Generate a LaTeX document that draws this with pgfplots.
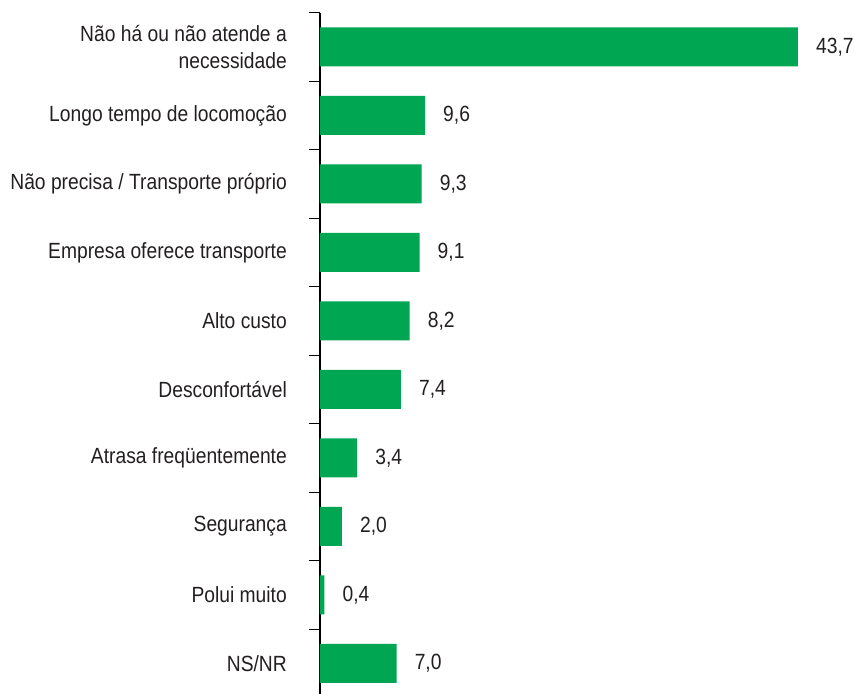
\documentclass[border=0pt]{standalone}
\usepackage{pgfplots}
\pgfplotsset{compat=1.18}
\usepackage{fontspec}
\setmainfont{Liberation Sans}[FakeStretch=0.875]
\definecolor{barg}{RGB}{0,166,81}
\definecolor{txt}{RGB}{35,31,32}
\begin{document}
\fontsize{22bp}{27bp}\selectfont
\begin{tikzpicture}
\begin{axis}[
  scale only axis,
  width=525bp, height=685bp,
  xmin=0, xmax=48,
  ymin=-0.5, ymax=9.5, y dir=reverse,
  xbar, bar width=39bp, bar shift=0pt,
  axis x line=none,
  axis y line*=left,
  axis line style={black, line width=1.3bp},
  ytick={0,...,9},
  yticklabels={{Não há ou não atende a\\necessidade},{Longo tempo de locomoção},{Não precisa / Transporte próprio},{Empresa oferece transporte},{Alto custo},{Desconfortável},{Atrasa freqüentemente},{Segurança},{Polui muito},{NS/NR}},
  major tick length=0pt,
  minor ytick={-0.5,0.5,...,9.5},
  minor tick length=11bp,
  tick align=outside,
  minor tick style={black, line width=1.3bp},
  yticklabel style={align=right, inner sep=0pt, xshift=-33bp, text=txt, font=\fontsize{22bp}{27bp}\selectfont},
  /pgf/number format/assume math mode=true,
  nodes near coords,
  point meta=x,
  nodes near coords style={anchor=west, inner sep=0pt, xshift=18bp, text=txt, font=\fontsize{22bp}{27bp}\selectfont,
    /pgf/number format/.cd, use comma, fixed, fixed zerofill, precision=1},
  clip=false,
]
\addplot[fill=barg, draw=none] coordinates {
  (43.7,0) (9.6,1) (9.3,2) (9.1,3) (8.2,4) (7.4,5) (3.4,6) (2.0,7) (0.4,8) (7.0,9)
};
\end{axis}
\pgfresetboundingbox
\path ([xshift=-320bp,yshift=4.7bp]current axis.south west) rectangle ([xshift=10bp,yshift=12.7bp]current axis.north east);
\end{tikzpicture}
\end{document}
